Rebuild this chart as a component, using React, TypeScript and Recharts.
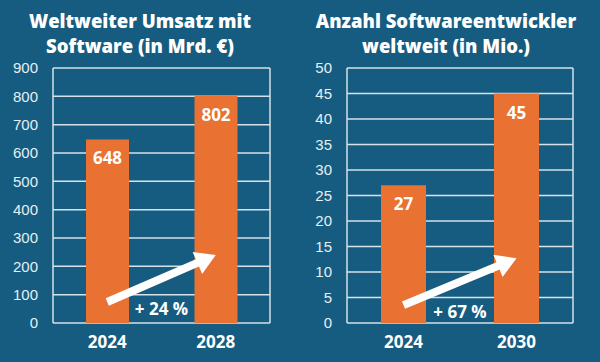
import React from "react";
import { BarChart, Bar, XAxis, YAxis, CartesianGrid, LabelList, ReferenceLine } from "recharts";

const salesYears = ["2024", "2028"];
const salesValues = [648, 802];
const salesTicks = [0, 100, 200, 300, 400, 500, 600, 700, 800, 900];
const salesArrow = [74, 240];
const salesGrowth = "+ 24 %";

const devYears = ["2024", "2030"];
const devValues = [27, 45];
const devTicks = [0, 5, 10, 15, 20, 25, 30, 35, 40, 45, 50];
const devArrow = [3.5, 12.7];
const devGrowth = "+ 67 %";

const BG = "#165C80";
const ORANGE = "#E97132";
const GRID = "#D5E2EA";
const FONT = "'Liberation Sans', Arial, sans-serif";
const BOLD_FONT = "'Open Sans', 'Liberation Sans', Arial, sans-serif";

function makeArrow(label: string) {
  return (props: any) => {
    const { x1, y1, x2, y2 } = props;
    if ([x1, y1, x2, y2].some((v) => typeof v !== "number" || isNaN(v))) return null;
    const dx = x2 - x1;
    const dy = y2 - y1;
    const len = Math.sqrt(dx * dx + dy * dy);
    const ux = dx / len;
    const uy = dy / len;
    const px = -uy;
    const py = ux;
    const shaft = 4;
    const headLen = 20;
    const headW = 12;
    const bx = x2 - ux * headLen;
    const by = y2 - uy * headLen;
    const pts = [
      [x1 + px * shaft, y1 + py * shaft],
      [bx + px * shaft, by + py * shaft],
      [bx + px * headW, by + py * headW],
      [x2, y2],
      [bx - px * headW, by - py * headW],
      [bx - px * shaft, by - py * shaft],
      [x1 - px * shaft, y1 - py * shaft],
    ]
      .map((p) => p.join(","))
      .join(" ");
    return (
      <g>
        <polygon points={pts} fill="#FFFFFF" />
        <text
          x={(x1 + x2) / 2}
          y={y1 + 13}
          textAnchor="middle"
          fill="#FFFFFF"
          fontSize={17}
          fontWeight="bold"
          fontFamily={BOLD_FONT}
        >
          {label}
        </text>
      </g>
    );
  };
}

function Panel(props: {
  years: string[];
  values: number[];
  ticks: number[];
  arrow: number[];
  growth: string;
  margin: any;
  yWidth: number;
  barSize: number;
}) {
  const data = props.years.map((y, i) => ({ year: y, value: props.values[i] }));
  const max = props.ticks[props.ticks.length - 1];
  return (
    <BarChart width={300} height={362} data={data} margin={props.margin}>
      <CartesianGrid
        stroke={GRID}
        strokeWidth={1.5}
        verticalCoordinatesGenerator={({ offset }: any) => [offset.left, offset.left + offset.width]}
      />
      <XAxis
        dataKey="year"
        axisLine={false}
        tickLine={false}
        tickSize={0}
        tickMargin={13}
        height={30}
        tick={{ fill: "#FFFFFF", fontSize: 17, fontWeight: "bold", fontFamily: BOLD_FONT }}
      />
      <YAxis
        domain={[0, max]}
        ticks={props.ticks}
        interval={0}
        axisLine={false}
        tickLine={false}
        tickSize={0}
        tickMargin={15}
        width={props.yWidth}
        tick={{ fill: "#E6EEF3", fontSize: 15, fontFamily: FONT }}
      />
      <Bar dataKey="value" fill={ORANGE} barSize={props.barSize} isAnimationActive={false}>
        <LabelList
          dataKey="value"
          position="insideTop"
          offset={13}
          fill="#FFFFFF"
          fontSize={17}
          fontWeight="bold"
          fontFamily={BOLD_FONT}
        />
      </Bar>
      <ReferenceLine
        segment={[
          { x: props.years[0], y: props.arrow[0] },
          { x: props.years[1], y: props.arrow[1] },
        ]}
        shape={makeArrow(props.growth)}
        ifOverflow="visible"
      />
    </BarChart>
  );
}

const titleStyle: React.CSSProperties = {
  position: "absolute",
  width: 320,
  textAlign: "center",
  color: "#FFFFFF",
  fontFamily: BOLD_FONT,
  fontWeight: 800,
  fontSize: 18.5,
  lineHeight: "25px",
  top: 8,
};

export default function App() {
  return (
    <div
      style={{
        position: "fixed",
        left: 0,
        top: 0,
        width: 600,
        height: 362,
        background: BG,
        overflow: "hidden",
      }}
    >
      <div style={{ position: "absolute", left: 0, top: 0 }}>
        <Panel
          years={salesYears}
          values={salesValues}
          ticks={salesTicks}
          arrow={salesArrow}
          growth={salesGrowth}
          margin={{ top: 68, right: 30, bottom: 9, left: 8 }}
          yWidth={45}
          barSize={43}
        />
      </div>
      <div style={{ position: "absolute", left: 300, top: 0 }}>
        <Panel
          years={devYears}
          values={devValues}
          ticks={devTicks}
          arrow={devArrow}
          growth={devGrowth}
          margin={{ top: 68, right: 27, bottom: 9, left: 7 }}
          yWidth={40}
          barSize={45}
        />
      </div>
      <div style={{ ...titleStyle, left: 140 - 160 }}>
        Weltweiter Umsatz mit
        <br />
        Software (in Mrd. €)
      </div>
      <div style={{ ...titleStyle, left: 446 - 160 }}>
        Anzahl Softwareentwickler
        <br />
        weltweit (in Mio.)
      </div>
    </div>
  );
}
